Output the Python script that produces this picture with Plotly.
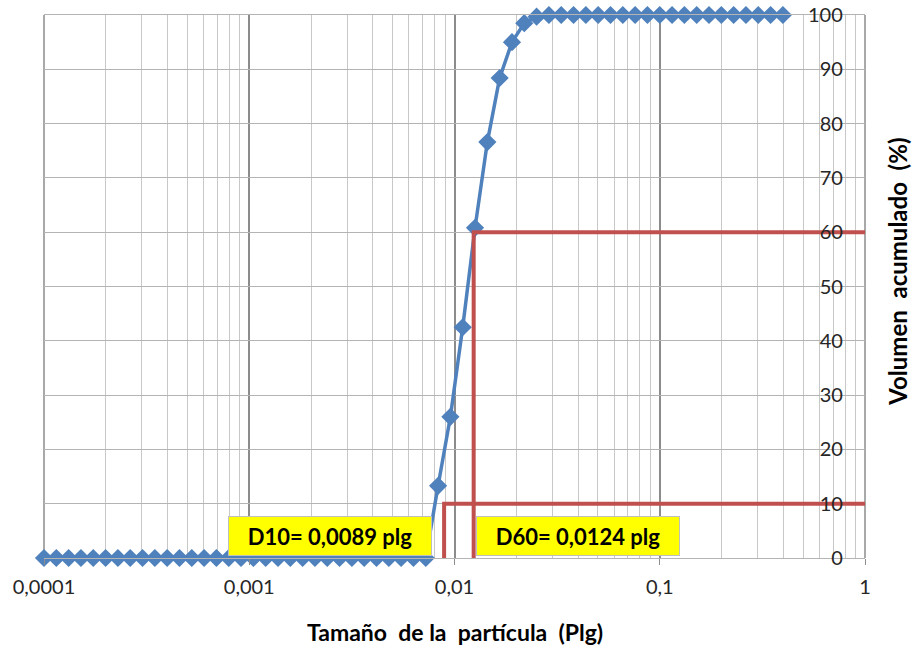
import plotly.graph_objects as go

# Particle size (inches), log-spaced sieve/laser channels
tamano_plg = [
    0.0001, 0.00011482, 0.00013183, 0.00015136, 0.00017378, 0.00019953,
    0.00022909, 0.00026303, 0.00030200, 0.00034674, 0.00039811, 0.00045709,
    0.00052481, 0.00060256, 0.00069183, 0.00079433, 0.00091201, 0.0010471,
    0.0012023, 0.0013804, 0.0015849, 0.0018197, 0.0020893, 0.0023988,
    0.0027542, 0.0031623, 0.0036308, 0.0041687, 0.0047863, 0.0054954,
    0.0063096, 0.0072444, 0.0083176, 0.0095499, 0.010965, 0.012589,
    0.014454, 0.016596, 0.019055, 0.021878, 0.025119, 0.028840,
    0.033113, 0.038019, 0.043652, 0.050119, 0.057544, 0.066069,
    0.075858, 0.087096, 0.1, 0.11482, 0.13183, 0.15136,
    0.17378, 0.19953, 0.22909, 0.26303, 0.30200, 0.34674, 0.39811,
]

# Cumulative volume (%)
volumen_acumulado = [
    0, 0, 0, 0, 0, 0, 0, 0, 0, 0,
    0, 0, 0, 0, 0, 0, 0, 0, 0, 0,
    0, 0, 0, 0, 0, 0, 0, 0, 0, 0,
    0, 0, 13.3, 26.0, 42.5, 60.8, 76.6, 88.4, 95.0, 98.5,
    99.7, 100, 100, 100, 100, 100, 100, 100, 100, 100,
    100, 100, 100, 100, 100, 100, 100, 100, 100, 100, 100,
]

# Characteristic diameters
d10 = 0.0089
d60 = 0.0124

x_tickvals = [0.0001, 0.001, 0.01, 0.1, 1]
x_ticktext = ["0,0001", "0,001", "0,01", "0,1", "1"]
y_tickvals = [0, 10, 20, 30, 40, 50, 60, 70, 80, 90, 100]

FONT = "Lato, 'Open Sans', sans-serif"
BLUE = "#4F81BD"
RED = "#C0504D"
MAJOR_GRID = "#8c8c8c"
H_GRID = "#b4b4b4"
MINOR_GRID = "#c8c8c8"
TEXT = "#262626"

minor_vals = [d * m for d in [0.0001, 0.001, 0.01, 0.1] for m in range(2, 10)]

fig = go.Figure()

fig.add_trace(go.Scatter(
    x=tamano_plg, y=volumen_acumulado, mode="lines+markers",
    line=dict(color=BLUE, width=3.5),
    marker=dict(symbol="diamond", size=14, color=BLUE),
    cliponaxis=False,
    showlegend=False, hoverinfo="skip",
))

# D10 / D60 guide lines
for d, p in [(d10, 10), (d60, 60)]:
    fig.add_trace(go.Scatter(
        x=[d, d, 1], y=[0, p, p], mode="lines",
        line=dict(color=RED, width=4),
        showlegend=False, hoverinfo="skip",
    ))

box_style = dict(xref="paper", yref="paper", xanchor="center", yanchor="middle",
                 width=202, height=38, bgcolor="#FFFF00", bordercolor="#bfbfbf",
                 borderwidth=1, borderpad=0, showarrow=False,
                 font=dict(family=FONT, size=22, color="black"))

fig.update_layout(
    width=914, height=651,
    margin=dict(l=44, r=49, t=15, b=93),
    paper_bgcolor="white", plot_bgcolor="white",
    font=dict(family=FONT, size=17, color=TEXT),
    xaxis=dict(
        type="log", range=[-4, 0],
        tickvals=x_tickvals, ticktext=x_ticktext,
        showgrid=True, gridcolor=MAJOR_GRID, gridwidth=1.5,
        ticks="outside", ticklen=6, tickcolor=MAJOR_GRID, ticklabelstandoff=5,
        minor=dict(tickvals=minor_vals, showgrid=True,
                   gridcolor=MINOR_GRID, gridwidth=1, ticks=""),
        zeroline=False, showline=True, mirror=True, linecolor=H_GRID, linewidth=1.3,
        tickfont=dict(size=20, family=FONT, color=TEXT),
    ),
    yaxis=dict(
        range=[0, 100], tickvals=y_tickvals,
        anchor="free", position=0.973, side="left", automargin=False,
        showgrid=True, gridcolor=H_GRID, gridwidth=1.3,
        zeroline=False, showline=False, ticks="",
        tickfont=dict(size=20, family=FONT, color=TEXT),
    ),
    shapes=[
        # vertical frame edges at 0.0001 and 1
        dict(type="line", xref="paper", yref="paper", x0=0, x1=0, y0=0, y1=1,
             line=dict(color=MAJOR_GRID, width=1.5), layer="below"),
        dict(type="line", xref="paper", yref="paper", x0=1, x1=1, y0=0, y1=1,
             line=dict(color=MAJOR_GRID, width=1.5), layer="below"),
    ],
    annotations=[
        dict(text="<b>D10= 0,0089 plg</b>", x=0.348, y=0.0405, **box_style),
        dict(text="<b>D60= 0,0124 plg</b>", x=0.651, y=0.0405, **box_style),
        dict(text="<b>Tamaño  de la  partícula  (Plg)</b>", xref="paper", yref="paper",
             x=0.5, y=-0.136, xanchor="center", yanchor="middle",
             showarrow=False, font=dict(family=FONT, size=23, color="black")),
        dict(text="<b>Volumen  acumulado  (%)</b>", xref="paper", yref="paper",
             x=1.04, y=0.527, xanchor="center", yanchor="middle", textangle=-90,
             showarrow=False, font=dict(family=FONT, size=24, color="black")),
    ],
)

fig.write_html("out.html")
